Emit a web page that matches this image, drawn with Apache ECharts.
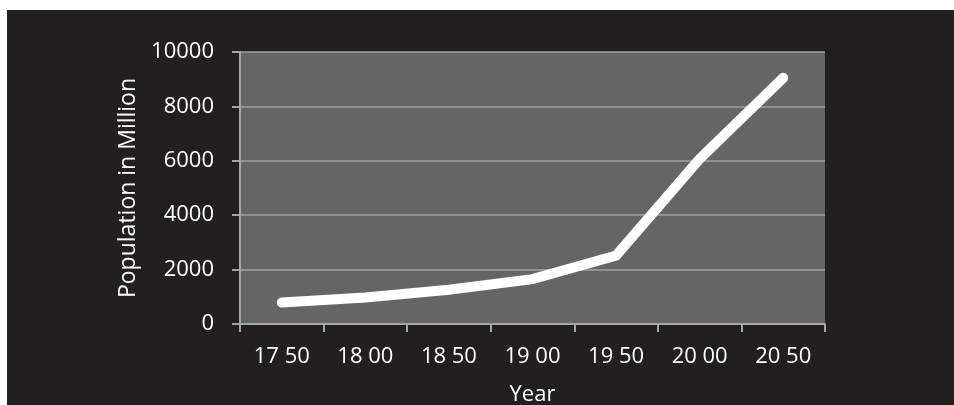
<!DOCTYPE html>
<html>
<head>
<meta charset="utf-8">
<script src="https://cdn.jsdelivr.net/npm/echarts@6/dist/echarts.min.js"></script>
<style>
html,body{margin:0;padding:0;background:#ffffff;width:954px;height:405px;overflow:hidden;}
#chart{position:absolute;left:7px;top:10px;width:947px;height:395px;}
</style>
</head>
<body>
<div id="chart"></div>
<script>
var years = ['17 50', '18 00', '18 50', '19 00', '19 50', '20 00', '20 50'];
var population = [791, 978, 1262, 1650, 2518, 6070, 9050];
var yTicks = [0, 2000, 4000, 6000, 8000, 10000];

var chart = echarts.init(document.getElementById('chart'));
var font = '"Open Sans", sans-serif';
chart.setOption({
  backgroundColor: '#231f20',
  animation: false,
  grid: {left: 233, top: 42, right: 129, bottom: 81, show: true, backgroundColor: '#656565', borderWidth: 0, containLabel: false, outerBoundsMode: 'none'},
  xAxis: {
    type: 'category',
    data: years,
    boundaryGap: true,
    name: 'Year',
    nameLocation: 'middle',
    nameGap: 60,
    nameTextStyle: {color: '#ffffff', fontSize: 22, fontFamily: font, verticalAlign: 'top'},
    axisLine: {show: true, lineStyle: {color: '#a6a6a6', width: 2}},
    axisTick: {show: true, alignWithLabel: false, length: 8, lineStyle: {color: '#a6a6a6', width: 2}},
    axisLabel: {color: '#ffffff', fontSize: 22, fontFamily: font, margin: 22},
    splitLine: {show: false}
  },
  yAxis: {
    type: 'value',
    min: yTicks[0],
    max: yTicks[yTicks.length - 1],
    interval: 2000,
    name: 'Population in Million',
    nameLocation: 'middle',
    nameGap: 92,
    nameTextStyle: {color: '#ffffff', fontSize: 23, fontFamily: font},
    axisLine: {show: true, lineStyle: {color: '#a6a6a6', width: 2}},
    axisTick: {show: true, length: 8, lineStyle: {color: '#a6a6a6', width: 2}},
    axisLabel: {color: '#ffffff', fontSize: 22, fontFamily: font, margin: 26, formatter: function (v) { return String(v); }},
    splitLine: {show: true, lineStyle: {color: '#a0a0a0', width: 1.5}}
  },
  series: [{
    type: 'line',
    data: population,
    symbol: 'none',
    lineStyle: {color: '#ffffff', width: 10, cap: 'round', join: 'miter'}
  }]
});
</script>
</body>
</html>
